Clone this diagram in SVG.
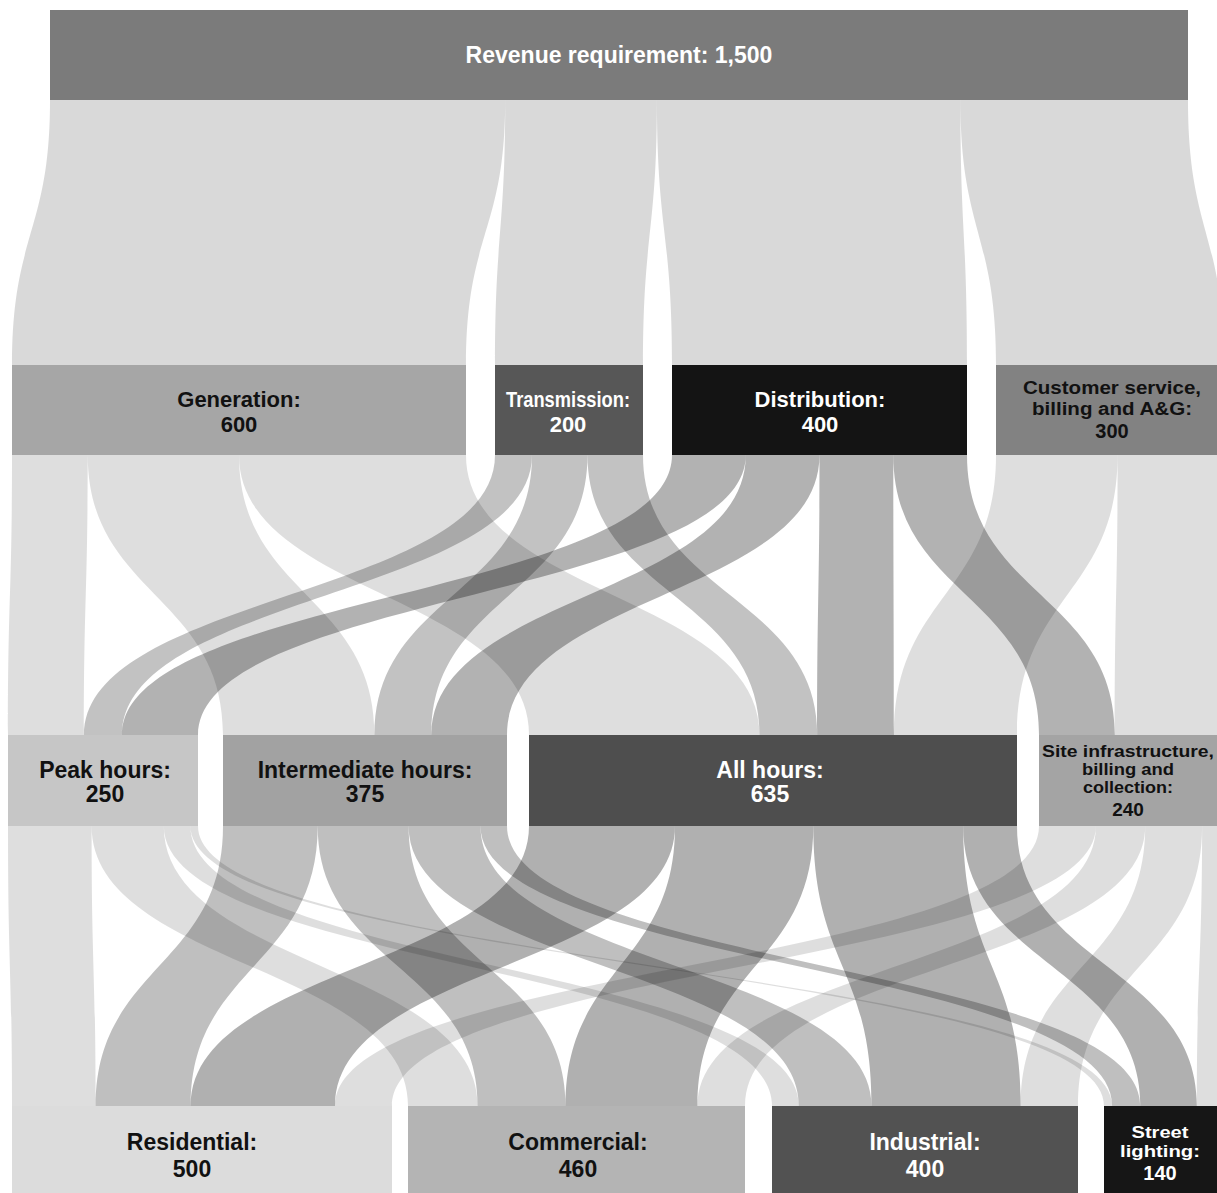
<svg xmlns="http://www.w3.org/2000/svg" width="1217" height="1193" viewBox="0 0 1217 1193">
  <style>
    .lbl { font-family: "Liberation Sans", Arial, "DejaVu Sans", sans-serif; font-weight: bold; text-anchor: middle; }
    .ink { fill: #111111; }
    .paper { fill: #ffffff; }
    .band { fill: #000000; }
    .b-rev { fill-opacity: 0.15; }
    .b-gen { fill-opacity: 0.13; }
    .b-trn { fill-opacity: 0.24; }
    .b-dst { fill-opacity: 0.30; }
    .b-cus { fill-opacity: 0.13; }
    .b-pk  { fill-opacity: 0.13; }
    .b-int { fill-opacity: 0.25; }
    .b-all { fill-opacity: 0.31; }
    .b-site { fill-opacity: 0.13; }
  </style>
  <rect x="0" y="0" width="1217" height="1193" fill="#ffffff"/>

  <!-- flow bands: each band is a sigmoid ribbon between two node rows -->
  <g id="connectors">
    <!-- revenue requirement to functions (y 100 -> 365) -->
    <path class="band b-rev" d="M50,100 C50,232.5 12,232.5 12,365 L466,365 C466,232.5 505.2,232.5 505.2,100 Z"/>
    <path class="band b-rev" d="M505.2,100 C505.2,232.5 495,232.5 495,365 L643,365 C643,232.5 656.9,232.5 656.9,100 Z"/>
    <path class="band b-rev" d="M656.9,100 C656.9,232.5 672,232.5 672,365 L967,365 C967,232.5 960.4,232.5 960.4,100 Z"/>
    <path class="band b-rev" d="M960.4,100 C960.4,232.5 996,232.5 996,365 L1224,365 C1224,232.5 1188,232.5 1188,100 Z"/>

    <!-- functions to time periods (y 455 -> 735) -->
    <path class="band b-gen" d="M12,455 C12,595 8,595 8,735 L84,735 C84,595 87.7,595 87.7,455 Z"/>
    <path class="band b-gen" d="M87.7,455 C87.7,595 223,595 223,735 L374.5,735 C374.5,595 239,595 239,455 Z"/>
    <path class="band b-gen" d="M239,455 C239,595 529,595 529,735 L759.6,735 C759.6,595 466,595 466,455 Z"/>

    <path class="band b-trn" d="M495,455 C495,595 84,595 84,735 L122,735 C122,595 532,595 532,455 Z"/>
    <path class="band b-trn" d="M532,455 C532,595 374.5,595 374.5,735 L431.3,735 C431.3,595 587.5,595 587.5,455 Z"/>
    <path class="band b-trn" d="M587.5,455 C587.5,595 759.6,595 759.6,735 L817.2,735 C817.2,595 643,595 643,455 Z"/>

    <path class="band b-dst" d="M672,455 C672,595 122,595 122,735 L198,735 C198,595 745.8,595 745.8,455 Z"/>
    <path class="band b-dst" d="M745.8,455 C745.8,595 431.3,595 431.3,735 L507,735 C507,595 819.5,595 819.5,455 Z"/>
    <path class="band b-dst" d="M819.5,455 C819.5,595 817.2,595 817.2,735 L894,735 C894,595 893.3,595 893.3,455 Z"/>
    <path class="band b-dst" d="M893.3,455 C893.3,595 1039,595 1039,735 L1114.8,735 C1114.8,595 967,595 967,455 Z"/>

    <path class="band b-cus" d="M996,455 C996,595 894,595 894,735 L1017,735 C1017,595 1117.6,595 1117.6,455 Z"/>
    <path class="band b-cus" d="M1117.6,455 C1117.6,595 1114.8,595 1114.8,735 L1221,735 C1221,595 1224,595 1224,455 Z"/>

    <!-- time periods to customer classes (y 826 -> 1106) -->
    <path class="band b-pk" d="M8,826 C8,966 12,966 12,1106 L95.6,1106 C95.6,966 91.6,966 91.6,826 Z"/>
    <path class="band b-pk" d="M91.6,826 C91.6,966 408,966 408,1106 L477.6,1106 C477.6,966 163.8,966 163.8,826 Z"/>
    <path class="band b-pk" d="M163.8,826 C163.8,966 772,966 772,1106 L798.8,1106 C798.8,966 190.4,966 190.4,826 Z"/>
    <path class="band b-pk" d="M190.4,826 C190.4,966 1104,966 1104,1106 L1112.1,1106 C1112.1,966 198,966 198,826 Z"/>

    <path class="band b-int" d="M223,826 C223,966 95.6,966 95.6,1106 L190.6,1106 C190.6,966 317.7,966 317.7,826 Z"/>
    <path class="band b-int" d="M317.7,826 C317.7,966 477.6,966 477.6,1106 L565.5,1106 C565.5,966 408.6,966 408.6,826 Z"/>
    <path class="band b-int" d="M408.6,826 C408.6,966 798.8,966 798.8,1106 L871.5,1106 C871.5,966 480.5,966 480.5,826 Z"/>
    <path class="band b-int" d="M480.5,826 C480.5,966 1112.1,966 1112.1,1106 L1140.3,1106 C1140.3,966 507,966 507,826 Z"/>

    <path class="band b-all" d="M529,826 C529,966 190.6,966 190.6,1106 L335,1106 C335,966 675,966 675,826 Z"/>
    <path class="band b-all" d="M675,826 C675,966 565.5,966 565.5,1106 L697.4,1106 C697.4,966 813.3,966 813.3,826 Z"/>
    <path class="band b-all" d="M813.3,826 C813.3,966 871.5,966 871.5,1106 L1020.6,1106 C1020.6,966 963.2,966 963.2,826 Z"/>
    <path class="band b-all" d="M963.2,826 C963.2,966 1140.3,966 1140.3,1106 L1196.8,1106 C1196.8,966 1017,966 1017,826 Z"/>

    <path class="band b-site" d="M1039,826 C1039,966 335,966 335,1106 L392,1106 C392,966 1095.9,966 1095.9,826 Z"/>
    <path class="band b-site" d="M1095.9,826 C1095.9,966 697.4,966 697.4,1106 L745,1106 C745,966 1145.2,966 1145.2,826 Z"/>
    <path class="band b-site" d="M1145.2,826 C1145.2,966 1020.6,966 1020.6,1106 L1078,1106 C1078,966 1202.1,966 1202.1,826 Z"/>
    <path class="band b-site" d="M1202.1,826 C1202.1,966 1196.8,966 1196.8,1106 L1217,1106 C1217,966 1221,966 1221,826 Z"/>
  </g>

  <!-- row 0 -->
  <g id="node-revenue">
    <rect x="50" y="10" width="1138" height="90" fill="#7b7b7b"/>
    <text class="lbl paper" x="619" y="63" font-size="23">Revenue requirement: 1,500</text>
  </g>

  <!-- row 1: cost functions -->
  <g id="node-generation">
    <rect x="12" y="365" width="454" height="90" fill="#a6a6a6"/>
    <text class="lbl ink" x="239" y="407" font-size="22">Generation:</text>
    <text class="lbl ink" x="239" y="432" font-size="22">600</text>
  </g>
  <g id="node-transmission">
    <rect x="495" y="365" width="148" height="90" fill="#575757"/>
    <text class="lbl paper" x="568" y="407" font-size="22" textLength="124" lengthAdjust="spacingAndGlyphs">Transmission:</text>
    <text class="lbl paper" x="568" y="432" font-size="22">200</text>
  </g>
  <g id="node-distribution">
    <rect x="672" y="365" width="295" height="90" fill="#141414"/>
    <text class="lbl paper" x="820" y="407" font-size="22">Distribution:</text>
    <text class="lbl paper" x="820" y="432" font-size="22">400</text>
  </g>
  <g id="node-customer-service">
    <rect x="996" y="365" width="228" height="90" fill="#828282"/>
    <text class="lbl ink" x="1112" y="394" font-size="18" textLength="178" lengthAdjust="spacingAndGlyphs">Customer service,</text>
    <text class="lbl ink" x="1112" y="415" font-size="18" textLength="160" lengthAdjust="spacingAndGlyphs">billing and A&amp;G:</text>
    <text class="lbl ink" x="1112" y="438" font-size="20">300</text>
  </g>

  <!-- row 2: time periods -->
  <g id="node-peak">
    <rect x="8" y="735" width="190" height="91" fill="#c6c6c6"/>
    <text class="lbl ink" x="105" y="778" font-size="23">Peak hours:</text>
    <text class="lbl ink" x="105" y="802" font-size="23">250</text>
  </g>
  <g id="node-intermediate">
    <rect x="223" y="735" width="284" height="91" fill="#a2a2a2"/>
    <text class="lbl ink" x="365" y="778" font-size="23">Intermediate hours:</text>
    <text class="lbl ink" x="365" y="802" font-size="23">375</text>
  </g>
  <g id="node-all-hours">
    <rect x="529" y="735" width="488" height="91" fill="#4e4e4e"/>
    <text class="lbl paper" x="770" y="778" font-size="23">All hours:</text>
    <text class="lbl paper" x="770" y="802" font-size="23">635</text>
  </g>
  <g id="node-site">
    <rect x="1039" y="735" width="182" height="91" fill="#a4a4a4"/>
    <text class="lbl ink" x="1128" y="757" font-size="16" textLength="172" lengthAdjust="spacingAndGlyphs">Site infrastructure,</text>
    <text class="lbl ink" x="1128" y="775" font-size="16" textLength="92" lengthAdjust="spacingAndGlyphs">billing and</text>
    <text class="lbl ink" x="1128" y="793" font-size="16" textLength="90" lengthAdjust="spacingAndGlyphs">collection:</text>
    <text class="lbl ink" x="1128" y="816" font-size="19">240</text>
  </g>

  <!-- row 3: customer classes -->
  <g id="node-residential">
    <rect x="12" y="1106" width="380" height="87" fill="#dcdcdc"/>
    <text class="lbl ink" x="192" y="1150" font-size="23">Residential:</text>
    <text class="lbl ink" x="192" y="1177" font-size="23">500</text>
  </g>
  <g id="node-commercial">
    <rect x="408" y="1106" width="337" height="87" fill="#b4b4b4"/>
    <text class="lbl ink" x="578" y="1150" font-size="23">Commercial:</text>
    <text class="lbl ink" x="578" y="1177" font-size="23">460</text>
  </g>
  <g id="node-industrial">
    <rect x="772" y="1106" width="306" height="87" fill="#525252"/>
    <text class="lbl paper" x="925" y="1150" font-size="23">Industrial:</text>
    <text class="lbl paper" x="925" y="1177" font-size="23">400</text>
  </g>
  <g id="node-street-lighting">
    <rect x="1104" y="1106" width="113" height="87" fill="#161616"/>
    <text class="lbl paper" x="1160" y="1138" font-size="17" textLength="57" lengthAdjust="spacingAndGlyphs">Street</text>
    <text class="lbl paper" x="1160" y="1157" font-size="17" textLength="80" lengthAdjust="spacingAndGlyphs">lighting:</text>
    <text class="lbl paper" x="1160" y="1180" font-size="20">140</text>
  </g>
</svg>
